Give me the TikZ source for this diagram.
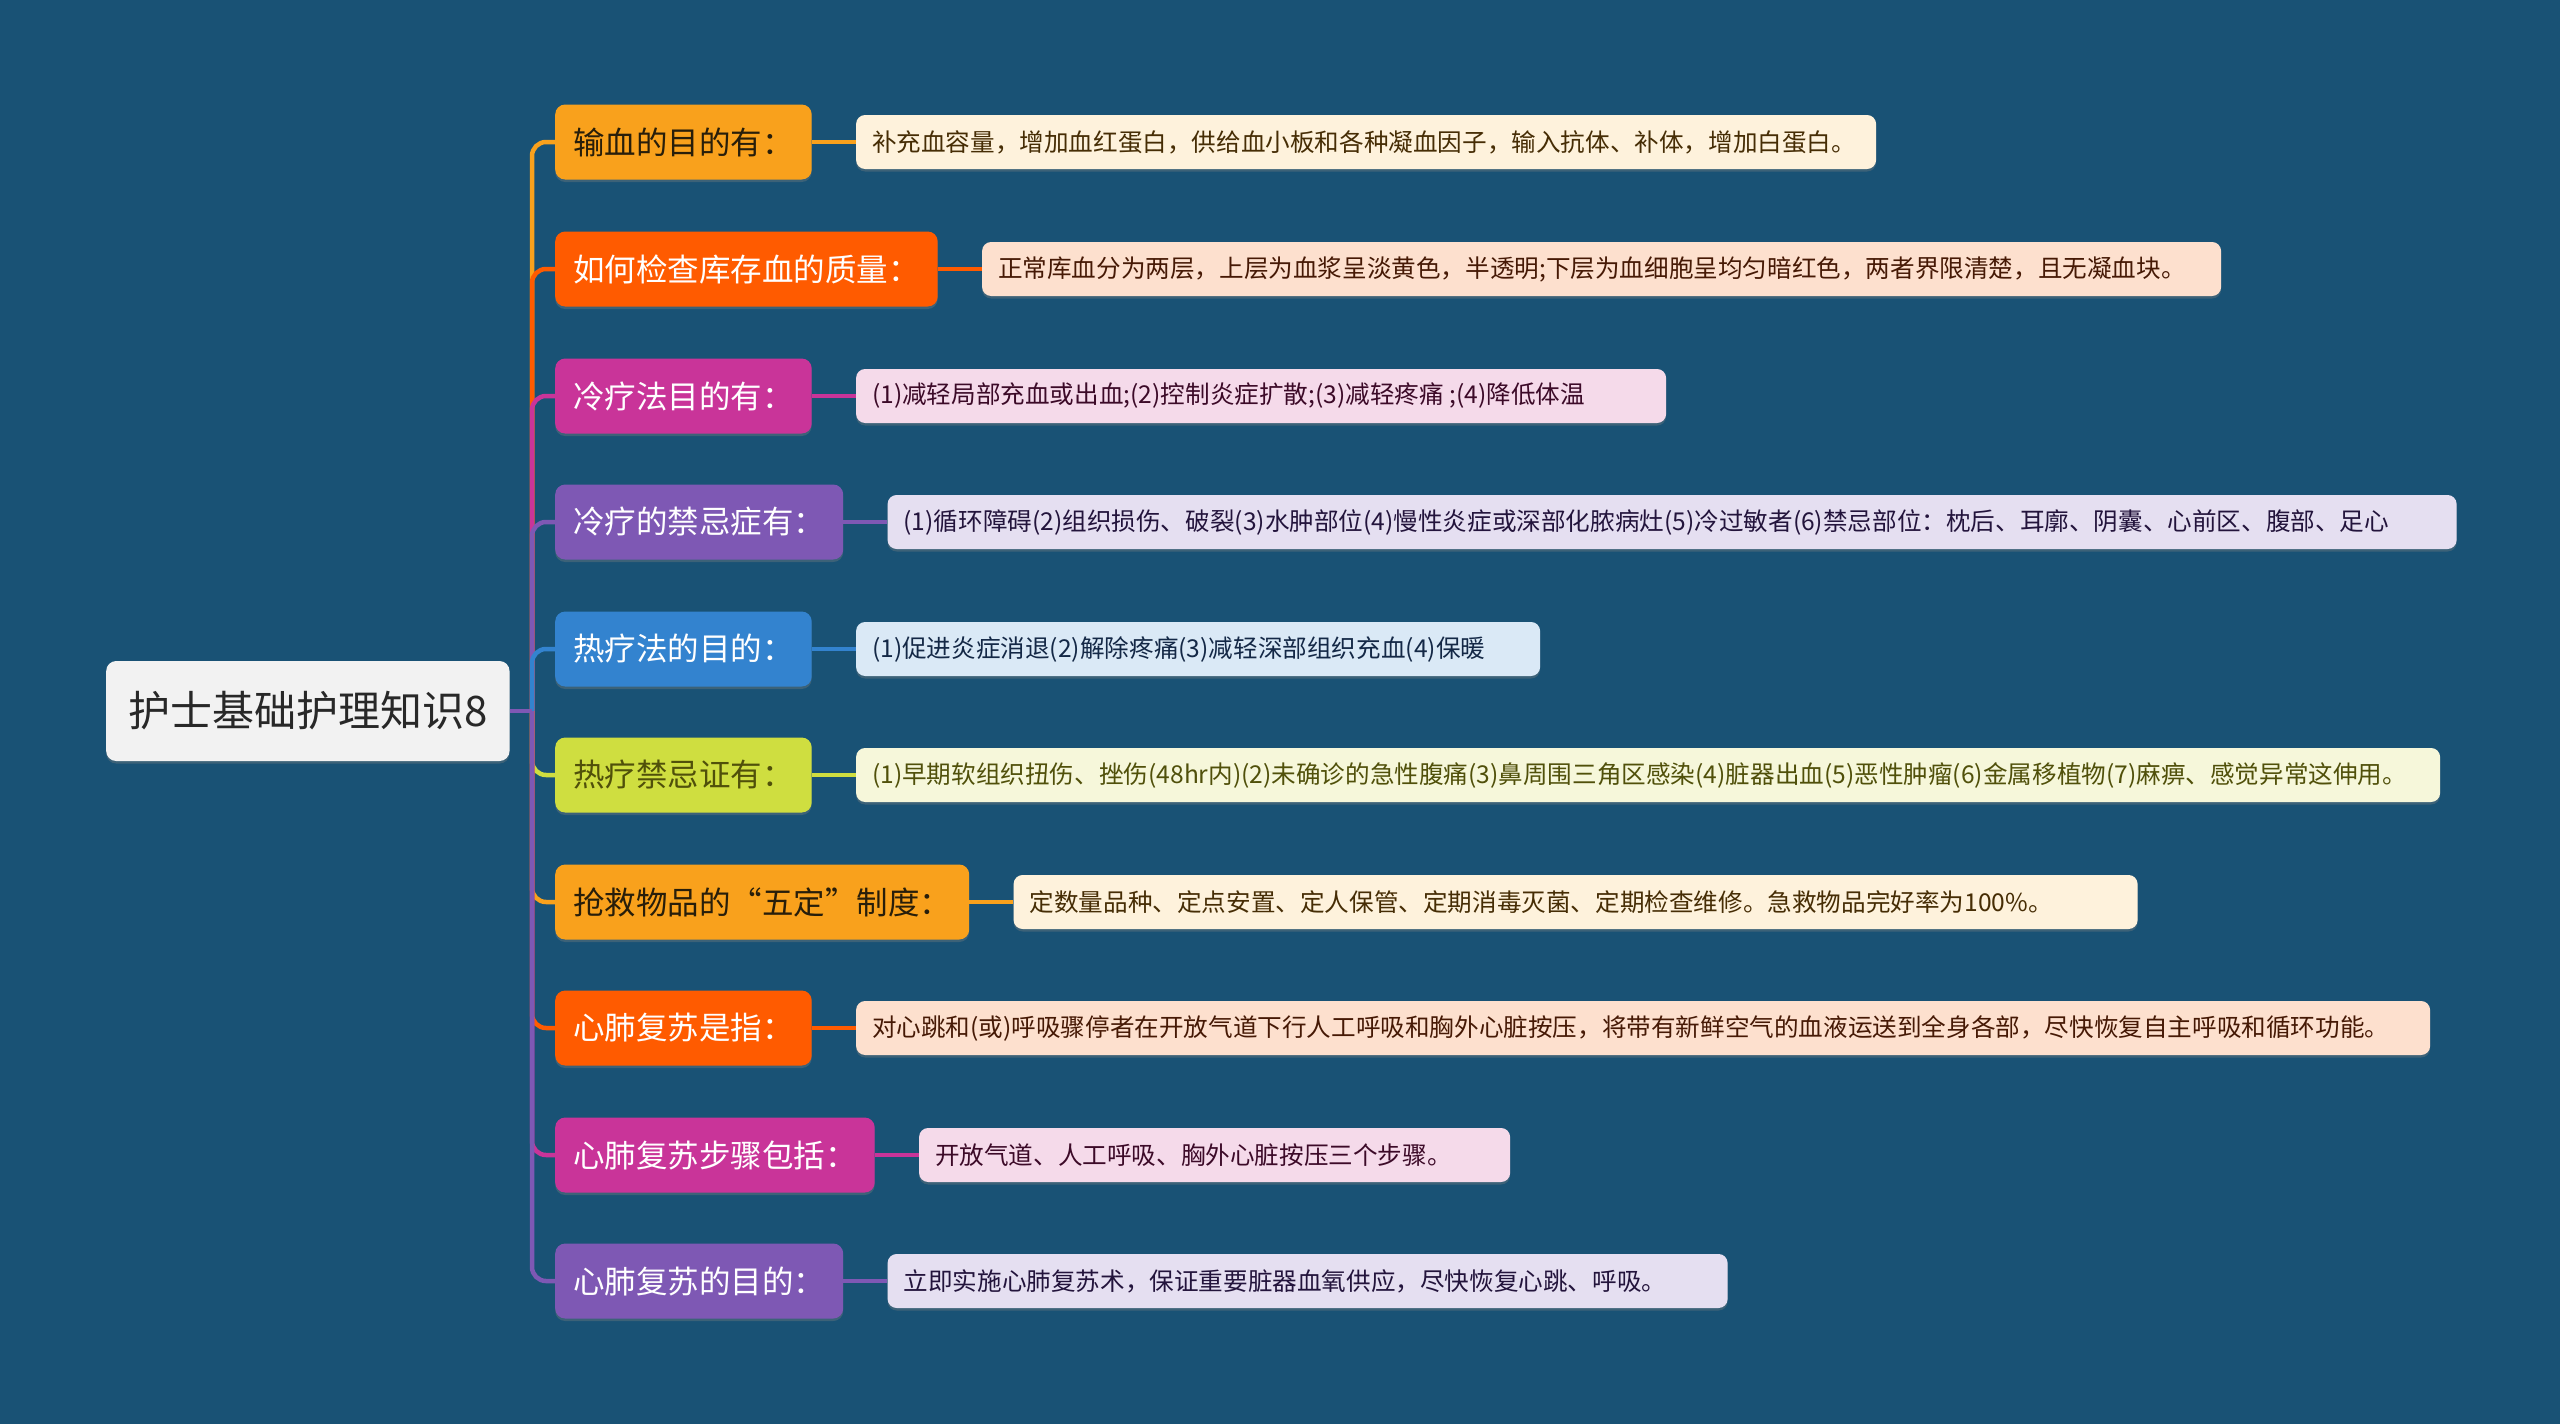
\documentclass[tikz,border=0pt]{standalone}
\usepackage{fontspec}
\setmainfont{Noto Sans CJK SC}
\usepackage{xcolor}
\usetikzlibrary{positioning, shadows}
\definecolor{bgblue}{RGB}{25,82,117}
\definecolor{rootgray}{RGB}{242,242,242}
\definecolor{roottext}{RGB}{40,40,40}
\definecolor{orangeA}{RGB}{249,161,28}
\definecolor{redA}{RGB}{255,91,0}
\definecolor{magentaA}{RGB}{201,52,153}
\definecolor{purpleA}{RGB}{126,88,180}
\definecolor{blueA}{RGB}{51,131,207}
\definecolor{limeA}{RGB}{207,222,64}
\definecolor{orangeL}{RGB}{254,242,220}
\definecolor{redL}{RGB}{253,224,206}
\definecolor{magentaL}{RGB}{245,218,234}
\definecolor{purpleL}{RGB}{229,223,241}
\definecolor{blueL}{RGB}{218,233,246}
\definecolor{limeL}{RGB}{246,247,218}
\definecolor{orangeT}{RGB}{70,45,5}
\definecolor{redT}{RGB}{70,25,5}
\definecolor{magentaT}{RGB}{60,10,40}
\definecolor{purpleT}{RGB}{35,20,60}
\definecolor{blueT}{RGB}{20,40,70}
\definecolor{limeT}{RGB}{80,80,10}
\definecolor{darkT}{RGB}{40,30,10}
\newcommand{\ltext}[2]{\makebox[#1][l]{#2}}

\begin{document}
\begin{tikzpicture}[x=1pt, y=-1pt,
    root/.style={rectangle, rounded corners=10pt, fill=rootgray, text=roottext,
                 minimum height=100pt, inner xsep=22pt, inner ysep=0pt,
                 font=\fontsize{42}{48}\selectfont,
                 drop shadow={shadow xshift=0pt, shadow yshift=-2.5pt, opacity=.35}},
    topic/.style={rectangle, rounded corners=10pt, fill=#1, text=white,
                  minimum height=75pt, inner xsep=18pt, inner ysep=0pt,
                  font=\fontsize{31.5}{36}\selectfont,
                  drop shadow={shadow xshift=0pt, shadow yshift=-2.5pt, opacity=.35}},
    leaf/.style={rectangle, rounded corners=9pt, fill=#1,
                 minimum height=54pt, inner xsep=16pt, inner ysep=0pt,
                 font=\fontsize{24.6}{28}\selectfont,
                 drop shadow={shadow xshift=0pt, shadow yshift=-2.5pt, opacity=.35}},
    link/.style={line width=4.5pt, draw=#1}
]
\fill[bgblue] (0,0) rectangle (2560,1424);

\node[root, anchor=west] (root) at (106,711) {护士基础护理知识8};
\coordinate (trunk) at (532,711);

% main topics
\node[topic=orangeA, text=darkT, anchor=west] (b1) at (555,142) {输血的目的有：};
\node[topic=redA, anchor=west] (b2) at (555,269) {如何检查库存血的质量：};
\node[topic=magentaA, anchor=west] (b3) at (555,396) {冷疗法目的有：};
\node[topic=purpleA, anchor=west] (b4) at (555,522) {冷疗的禁忌症有：};
\node[topic=blueA, anchor=west] (b5) at (555,649) {热疗法的目的：};
\node[topic=limeA, text=limeT, anchor=west] (b6) at (555,775) {热疗禁忌证有：};
\node[topic=orangeA, text=darkT, anchor=west] (b7) at (555,902) {抢救物品的“五定”制度：};
\node[topic=redA, anchor=west] (b8) at (555,1028) {心肺复苏是指：};
\node[topic=magentaA, anchor=west] (b9) at (555,1155) {心肺复苏步骤包括：};
\node[topic=purpleA, anchor=west] (b10) at (555,1281) {心肺复苏的目的：};

% details
\node[leaf=orangeL, text=orangeT, right=44pt of b1] (l1) {\ltext{988pt}{补充血容量，增加血红蛋白，供给血小板和各种凝血因子，输入抗体、补体，增加白蛋白。}};
\node[leaf=redL, text=redT, right=44pt of b2] (l2) {\ltext{1207pt}{正常库血分为两层，上层为血浆呈淡黄色，半透明;下层为血细胞呈均匀暗红色，两者界限清楚，且无凝血块。}};
\node[leaf=magentaL, text=magentaT, right=44pt of b3] (l3) {\ltext{778pt}{(1)减轻局部充血或出血;(2)控制炎症扩散;(3)减轻疼痛 ;(4)降低体温}};
\node[leaf=purpleL, text=purpleT, right=44pt of b4] (l4) {\ltext{1537pt}{(1)循环障碍(2)组织损伤、破裂(3)水肿部位(4)慢性炎症或深部化脓病灶(5)冷过敏者(6)禁忌部位：枕后、耳廓、阴囊、心前区、腹部、足心}};
\node[leaf=blueL, text=blueT, right=44pt of b5] (l5) {\ltext{652pt}{(1)促进炎症消退(2)解除疼痛(3)减轻深部组织充血(4)保暖}};
\node[leaf=limeL, text=limeT, right=44pt of b6] (l6) {\ltext{1552pt}{(1)早期软组织扭伤、挫伤(48hr内)(2)未确诊的急性腹痛(3)鼻周围三角区感染(4)脏器出血(5)恶性肿瘤(6)金属移植物(7)麻痹、感觉异常这伸用。}};
\node[leaf=orangeL, text=orangeT, right=44pt of b7] (l7) {\ltext{1092pt}{定数量品种、定点安置、定人保管、定期消毒灭菌、定期检查维修。急救物品完好率为100\%。}};
\node[leaf=redL, text=redT, right=44pt of b8] (l8) {\ltext{1542pt}{对心跳和(或)呼吸骤停者在开放气道下行人工呼吸和胸外心脏按压，将带有新鲜空气的血液运送到全身各部，尽快恢复自主呼吸和循环功能。}};
\node[leaf=magentaL, text=magentaT, right=44pt of b9] (l9) {\ltext{559pt}{开放气道、人工呼吸、胸外心脏按压三个步骤。}};
\node[leaf=purpleL, text=purpleT, right=44pt of b10] (l10) {\ltext{808pt}{立即实施心肺复苏术，保证重要脏器血氧供应，尽快恢复心跳、呼吸。}};

% connectors
\draw[link=orangeA, rounded corners=14pt] (trunk) |- (b1.west);
\draw[link=redA, rounded corners=14pt] (trunk) |- (b2.west);
\draw[link=magentaA, rounded corners=14pt] (trunk) |- (b3.west);
\draw[link=purpleA, rounded corners=14pt] (trunk) |- (b4.west);
\draw[link=blueA, rounded corners=14pt] (trunk) |- (b5.west);
\draw[link=limeA, rounded corners=14pt] (trunk) |- (b6.west);
\draw[link=orangeA, rounded corners=14pt] (trunk) |- (b7.west);
\draw[link=redA, rounded corners=14pt] (trunk) |- (b8.west);
\draw[link=magentaA, rounded corners=14pt] (trunk) |- (b9.west);
\draw[link=purpleA, rounded corners=14pt] (trunk) |- (b10.west);
\draw[link=purpleA] (root) -- (trunk);

\draw[link=orangeA] (b1) -- (l1);
\draw[link=redA] (b2) -- (l2);
\draw[link=magentaA] (b3) -- (l3);
\draw[link=purpleA] (b4) -- (l4);
\draw[link=blueA] (b5) -- (l5);
\draw[link=limeA] (b6) -- (l6);
\draw[link=orangeA] (b7) -- (l7);
\draw[link=redA] (b8) -- (l8);
\draw[link=magentaA] (b9) -- (l9);
\draw[link=purpleA] (b10) -- (l10);
\end{tikzpicture}
\end{document}
